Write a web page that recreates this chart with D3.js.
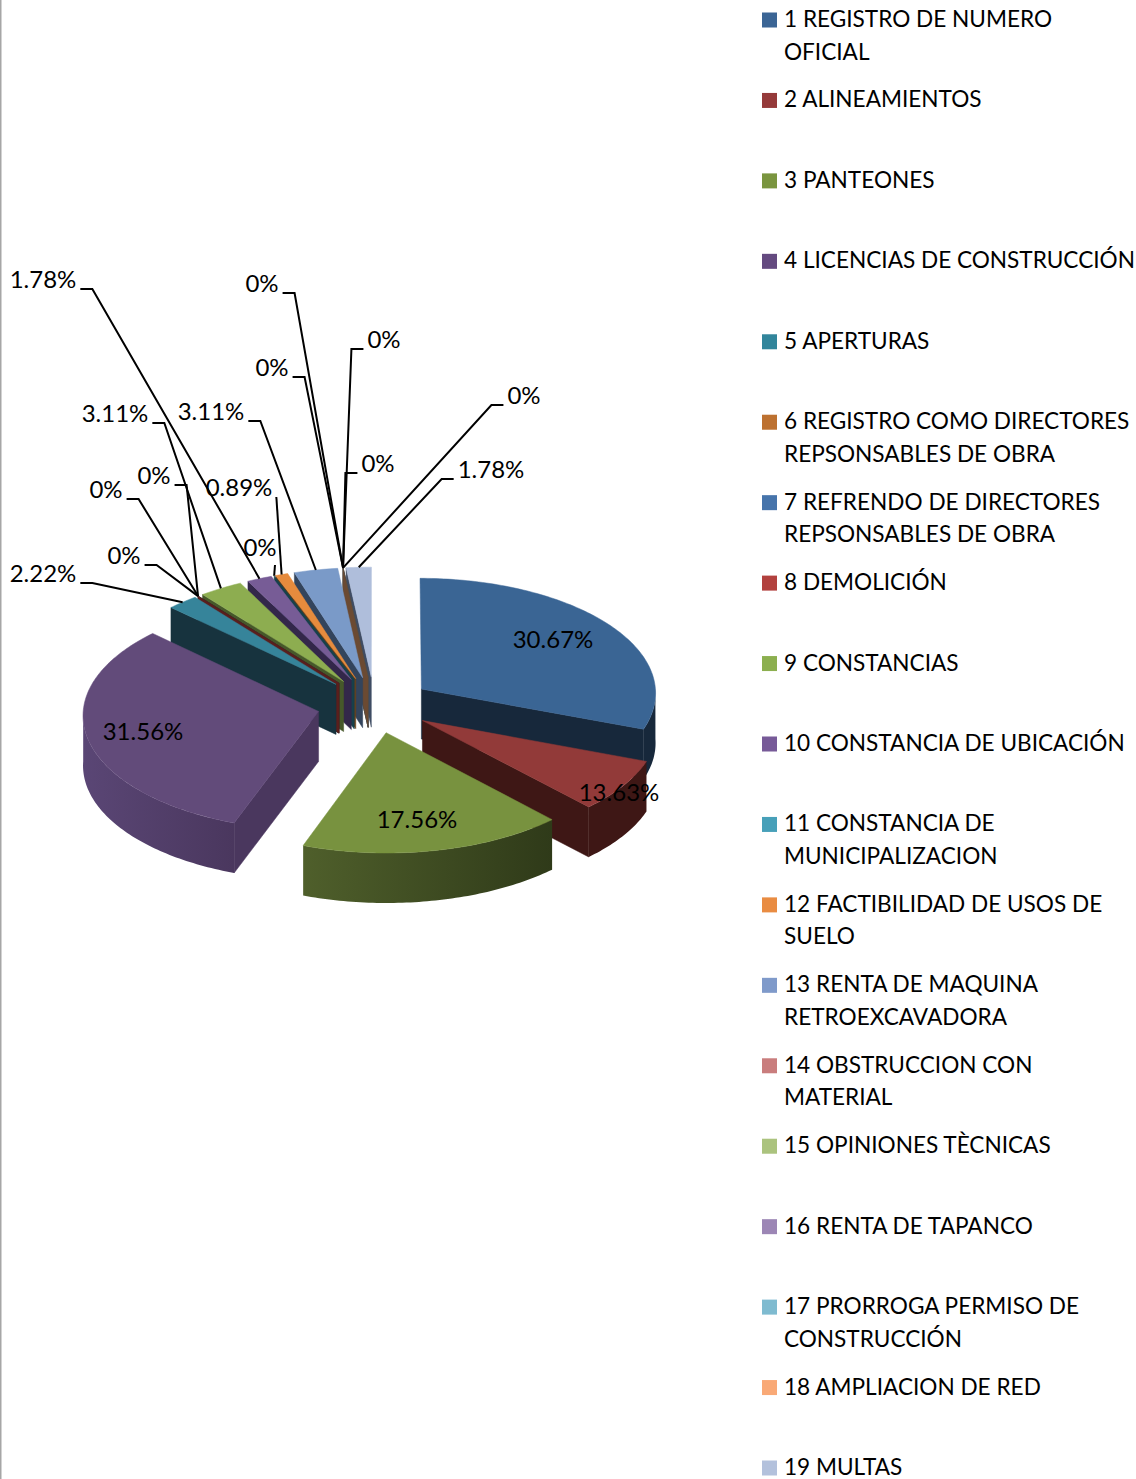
<!DOCTYPE html>
<html>
<head>
<meta charset="utf-8">
<script src="https://cdn.jsdelivr.net/npm/d3@7"></script>
<style>
  html, body { margin: 0; padding: 0; background: #fff; }
  svg { display: block; }
  text { font-family: Lato, "Open Sans", sans-serif; fill: #000; }
</style>
</head>
<body>
<div id="chart"></div>
<script>
// 3D exploded pie + legend

const categories = [
  ["1 REGISTRO DE NUMERO", "OFICIAL"],
  ["2 ALINEAMIENTOS"],
  ["3 PANTEONES"],
  ["4 LICENCIAS DE CONSTRUCCIÓN"],
  ["5 APERTURAS"],
  ["6 REGISTRO COMO DIRECTORES", "REPSONSABLES DE OBRA"],
  ["7 REFRENDO DE DIRECTORES", "REPSONSABLES DE OBRA"],
  ["8 DEMOLICIÓN"],
  ["9 CONSTANCIAS"],
  ["10 CONSTANCIA DE UBICACIÓN"],
  ["11 CONSTANCIA DE", "MUNICIPALIZACION"],
  ["12 FACTIBILIDAD DE USOS DE", "SUELO"],
  ["13 RENTA DE MAQUINA", "RETROEXCAVADORA"],
  ["14 OBSTRUCCION CON", "MATERIAL"],
  ["15 OPINIONES TÈCNICAS"],
  ["16 RENTA DE TAPANCO"],
  ["17 PRORROGA PERMISO DE", "CONSTRUCCIÓN"],
  ["18 AMPLIACION DE RED"],
  ["19 MULTAS"]
];

// printed on the picture
const printedLabels = [
  "30.67%", "13.63%", "17.56%", "31.56%", "2.22%", "0%", "0%", "0%", "3.11%", "1.78%",
  "0%", "0.89%", "3.11%", "0%", "0%", "0%", "0%", "0%", "1.78%"
];

// wedge sizes as drawn; slice 2 is visibly narrower than its printed 13.63%
const wedgeShares = [
  30.67, 7.33, 17.56, 31.56, 2.22, 0, 0, 0, 3.11, 1.78,
  0, 0.89, 3.11, 0, 0, 0, 0, 0, 1.78
];

const legendColors = [
  "#3b6595", "#953a3a", "#7a953f", "#644a80", "#31859b", "#bd7130", "#4674ab", "#b2413e",
  "#8caf4f", "#775a98", "#47a0b9", "#e98c42", "#7f9aca", "#c97d7d", "#abc37e", "#9c86b5",
  "#7fbbd0", "#f9a976", "#b3c1dc"
];
const topColors = [
  "#3a6594", "#923a39", "#78923f", "#624b7a", "#36849a", "#bd7130", "#4674ab", "#b2413e",
  "#8dad50", "#775c96", "#3d9bb3", "#e68b3d", "#7a9ac8", "#c97d7b", "#abc37e", "#9d87b6",
  "#74b6ca", "#f7aa6f", "#afbedb"
];
const wallColors = [
  "#17283b", "#3e1715", "#2f3a19", "#4a375e", "#17333e", "#4c2d13", "#1c2e44", "#5a1f1d",
  "#46582a", "#33274a", "#17404b", "#6b4018", "#33445c", "#6e3331", "#5a6a3a", "#4a3a5c",
  "#2a5a66", "#6b4a32", "#3f4c63"
];
// lighter left end of the rim shading, only the two big front slices have it
const rimLightColors = { 2: "#4f5f2b", 3: "#5a4675" };

// printed label layout: [text centre x, text centre y, stub side]
const labelLayout = [
  [553, 640, 0], [619, 793, 0], [417, 820, 0], [143, 732, 0],
  [43, 574, 1], [124, 556, 1], [106, 490, 1], [154, 476, 1],
  [115, 414, 1], [43, 280, 1], [260, 548, 2], [239, 488, 3],
  [211, 412, 1], [262, 284, 1], [272, 368, 1], [384, 340, -1],
  [378, 464, -1], [524, 396, -1], [491, 470, -1]
];

const W = 1136, H = 1479;
const cx = 374.5, cy = 705, rx = 235, ry = 115;
const explode = 0.244, persp = 0.03, depth = 50;
const deg = Math.PI / 180;

const svg = d3.select("#chart").append("svg").attr("width", W).attr("height", H);
const defs = svg.append("defs");

// thin frame line on the left edge
svg.append("rect").attr("x", 0).attr("y", 0).attr("width", 1.5).attr("height", H).attr("fill", "#a6a6a6");

const slices = d3.pie().sort(null).value(d => d)(wedgeShares).map((d, i) => ({
  i, start: d.startAngle, end: d.endAngle, mid: (d.startAngle + d.endAngle) / 2
}));

// ground plane (slice offset + rim point) to screen, with a little perspective
function project(s, angle, r) {
  const a = Math.sin(s.mid) * explode + Math.sin(angle) * r;
  const b = -Math.cos(s.mid) * explode - Math.cos(angle) * r;
  const f = 1 / (1 - persp * b);
  return [cx + rx * a * f, cy + ry * b * f];
}

function rimPoints(s, from, to) {
  const n = Math.max(2, Math.ceil((to - from) / deg));
  return d3.range(n + 1).map(k => project(s, from + (to - from) * k / n, 1));
}

const drop = p => [p[0], p[1] + depth];
const line = d3.line();
const closed = pts => line(pts) + "Z";

// back slices first, front last
const order = slices.slice().sort((a, b) =>
  Math.abs(b.mid - Math.PI) - Math.abs(a.mid - Math.PI) || a.i - b.i);

const layer = svg.append("g").attr("class", "pie-layer");

order.forEach(s => {
  const g = layer.append("g").attr("class", "slice");
  const top = topColors[s.i], wall = wallColors[s.i];
  const apex = project(s, s.mid, 0);

  // radial cut faces, when they point down the screen
  [[s.start, s.start - Math.PI / 2], [s.end, s.end + Math.PI / 2]].forEach(([angle, normal]) => {
    if (Math.cos(normal) >= -1e-6) return;
    const rimPt = project(s, angle, 1);
    g.append("path")
      .attr("d", closed([apex, rimPt, drop(rimPt), drop(apex)]))
      .attr("fill", wall).attr("stroke", wall).attr("stroke-width", 0.5);
  });

  // outer wall, only the part that faces the viewer
  const from = Math.max(s.start, Math.PI / 2), to = Math.min(s.end, Math.PI * 1.5);
  if (to > from) {
    const rim = rimPoints(s, from, to);
    let fill = wall;
    if (rimLightColors[s.i]) {
      const id = "wall-" + s.i;
      const grad = defs.append("linearGradient").attr("id", id);
      grad.append("stop").attr("offset", 0).attr("stop-color", rimLightColors[s.i]);
      grad.append("stop").attr("offset", 1).attr("stop-color", wall);
      fill = `url(#${id})`;
    }
    g.append("path")
      .attr("d", closed(rim.concat(rim.map(drop).reverse())))
      .attr("fill", fill);
  }

  if (s.end > s.start) {
    g.append("path")
      .attr("d", closed([apex].concat(rimPoints(s, s.start, s.end))))
      .attr("fill", top).attr("stroke", top).attr("stroke-width", 0.5);
  }
});

// leader lines
const leaders = svg.append("g").attr("class", "leaders")
  .attr("fill", "none").attr("stroke", "#000").attr("stroke-width", 2);

const labelG = svg.append("g").attr("class", "labels");

slices.forEach(s => {
  const [x, y, side] = labelLayout[s.i];
  const t = labelG.append("text")
    .attr("x", x).attr("y", y - 2)
    .attr("text-anchor", "middle")
    .attr("dominant-baseline", "central")
    .style("font-size", "24px")
    .text(printedLabels[s.i]);
  if (side === 0) return;

  const end = project(s, s.mid, 1);
  const half = t.node().getComputedTextLength() / 2;
  let pts;
  if (side === 2) {
    pts = [[x + 15, y + 17], [end[0], end[1]]];
  } else if (side === 3) {
    pts = [[x + half + 4, y + 9], [end[0], end[1]]];
  } else {
    const dir = side === 1 ? 1 : -1;
    const sx = x + dir * (half + 4), sy = y + 9;
    pts = [[sx, sy], [sx + dir * 12, sy], [end[0], end[1]]];
  }
  leaders.append("path").attr("d", line(pts));
});

// legend
const legendY = d3.scaleLinear().domain([0, categories.length - 1]).range([20, 1468]);
const legend = svg.append("g").attr("class", "legend");

categories.forEach((lines, i) => {
  const y = legendY(i);
  legend.append("rect")
    .attr("x", 762).attr("y", y - 7.5)
    .attr("width", 15).attr("height", 15)
    .attr("fill", legendColors[i]);
  lines.forEach((txt, k) => {
    legend.append("text")
      .attr("x", 784).attr("y", y - 1.5 + k * 32.5)
      .attr("dominant-baseline", "central")
      .style("font-size", "22.6px")
      .text(txt);
  });
});
</script>
</body>
</html>
